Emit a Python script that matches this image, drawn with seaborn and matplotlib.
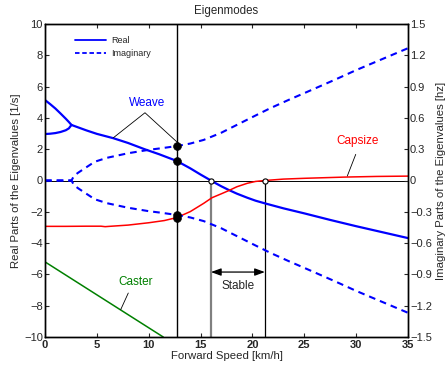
import matplotlib
matplotlib.use("Agg")
import matplotlib.pyplot as plt
import seaborn as sns
from matplotlib.lines import Line2D

# --- data ---
# weave mode, two real roots before they merge into an oscillation
split_speed = [0.0, 0.5, 1.0, 1.5, 2.0, 2.3, 2.55]
weave_real_upper = [5.14, 4.88, 4.6, 4.28, 3.95, 3.74, 3.55]
weave_real_lower = [2.97, 2.99, 3.03, 3.1, 3.21, 3.33, 3.55]

weave_speed = [2.55, 4.0, 5.0, 6.6, 8.0, 9.6, 11.0, 12.7, 14.0, 15.0, 16.0, 16.5,
               17.0, 17.7, 18.5, 19.5, 20.3, 21.2, 23.0, 25.0, 27.5, 30.0, 32.5, 35.0]
weave_real = [3.55, 3.2, 2.98, 2.7, 2.4, 2.0, 1.68, 1.25, 0.78, 0.38, 0.0, -0.19,
              -0.37, -0.6, -0.84, -1.1, -1.29, -1.46, -1.78, -2.1, -2.52, -2.92, -3.3, -3.68]

# imaginary part of the weave pair [hz], plotted as +/- on the right axis
imag_speed = [0.0, 2.55, 2.8, 3.2, 3.7, 4.8, 6.0, 8.0, 10.0, 11.2, 12.7, 14.0,
              15.3, 17.0, 18.5, 20.0, 21.7, 23.5, 25.2, 28.0, 30.0, 32.5, 35.0]
weave_imag_hz = [0.0, 0.0, 0.045, 0.075, 0.108, 0.18, 0.218, 0.261, 0.294, 0.309, 0.33, 0.354,
                 0.389, 0.458, 0.533, 0.608, 0.692, 0.773, 0.846, 0.968, 1.058, 1.163, 1.268]

capsize_speed = [0.0, 2.0, 4.0, 5.4, 5.8, 6.2, 8.0, 10.0, 11.5, 12.7, 14.0, 15.3,
                 16.1, 17.0, 17.7, 18.5, 19.5, 20.3, 21.2, 23.0, 25.0, 29.0, 32.0, 35.0]
capsize_real = [-2.93, -2.93, -2.92, -2.92, -2.95, -2.93, -2.85, -2.7, -2.56, -2.37, -1.99, -1.46,
                -1.1, -0.85, -0.65, -0.4, -0.18, -0.06, 0.0, 0.09, 0.14, 0.22, 0.26, 0.28]

caster_speed = [0.0, 11.4]
caster_real = [-5.2, -10.0]

marker_speed = 12.7
marker_real = [1.25, -2.37]
marker_imag_hz = [0.33, -0.33]
weave_critical = 16.0
capsize_critical = 21.2

BLUE, RED, GREEN = "#0000ff", "#ff0000", "#008000"

sns.set_style("ticks")
plt.rcParams["font.family"] = ["Liberation Sans", "DejaVu Sans"]
plt.rcParams["xtick.direction"] = "in"
plt.rcParams["ytick.direction"] = "in"

fig = plt.figure(figsize=(4.48, 3.66), dpi=100)
ax = fig.add_axes([45 / 448, 29 / 366, 363 / 448, 313 / 366])
ax2 = ax.twinx()

# reference lines
ax.axhline(0, color="k", lw=0.7, zorder=1)
ax.axvline(marker_speed, color="k", lw=1.0, zorder=1)
ax.vlines(weave_critical, -10, 0, color="#808080", lw=1.6, zorder=1)
ax.vlines(capsize_critical, -10, 0, color="k", lw=0.9, zorder=1)

# real parts
for xs, ys in [(split_speed, weave_real_upper), (split_speed, weave_real_lower),
               (weave_speed, weave_real)]:
    sns.lineplot(x=xs, y=ys, ax=ax, color=BLUE, lw=1.6, estimator=None, sort=False)
sns.lineplot(x=capsize_speed, y=capsize_real, ax=ax, color=RED, lw=1.1, estimator=None)
sns.lineplot(x=caster_speed, y=caster_real, ax=ax, color=GREEN, lw=1.1, estimator=None)

# imaginary parts (right axis)
dash = (0, (3.2, 2.4))
sns.lineplot(x=imag_speed, y=weave_imag_hz, ax=ax2, color=BLUE, lw=1.5,
             linestyle=dash, estimator=None)
sns.lineplot(x=imag_speed, y=[-v for v in weave_imag_hz], ax=ax2, color=BLUE, lw=1.5,
             linestyle=dash, estimator=None)

# markers
sns.scatterplot(x=[marker_speed] * 2, y=marker_real, ax=ax, color="k", s=32,
                edgecolor="k", zorder=6)
sns.scatterplot(x=[marker_speed] * 2, y=marker_imag_hz, ax=ax2, color="k", s=32,
                edgecolor="k", zorder=6)
sns.scatterplot(x=[weave_critical, capsize_critical], y=[0, 0], ax=ax, color="white",
                s=14, edgecolor="k", linewidth=0.8, zorder=6)

# mode labels
ax.plot([6.59, 9.64, 12.86], [2.73, 4.33, 2.38], color="k", lw=0.6)
ax.text(9.8, 4.97, "Weave", color=BLUE, fontsize=8.5, ha="center", va="center")
ax.plot([29.96, 29.15], [1.67, 0.29], color="k", lw=0.6)
ax.text(30.1, 2.55, "Capsize", color=RED, fontsize=8.5, ha="center", va="center")
ax.plot([8.03, 7.3], [-7.19, -8.25], color="k", lw=0.6)
ax.text(8.75, -6.49, "Caster", color=GREEN, fontsize=8.5, ha="center", va="center")

ax.annotate("", xy=(weave_critical, -5.85), xytext=(capsize_critical, -5.85),
            arrowprops=dict(arrowstyle="<|-|>,head_length=0.6,head_width=0.22",
                            color="k", lw=0.9, shrinkA=0, shrinkB=0))
ax.text(18.6, -6.75, "Stable", fontsize=8.5, ha="center", va="center")

# axes
ax.set_xlim(0, 35)
ax.set_ylim(-10, 10)
ax2.set_ylim(-1.5, 1.5)
ax.set_xticks(range(0, 36, 5))
ax.set_yticks(range(-10, 11, 2))
right_ticks = [-1.5, -1.2, -0.9, -0.6, -0.3, 0, 0.3, 0.6, 0.9, 1.2, 1.5]
ax2.set_yticks(right_ticks, labels=[f"{t:g}".replace("-", "\u2212") for t in right_ticks])
plt.setp(ax.get_xticklabels(), fontweight="bold")

ax.tick_params(axis="both", labelsize=8, length=3, width=0.8, pad=1.5, top=True)
ax.tick_params(axis="x", pad=2.5)
ax2.tick_params(axis="y", labelsize=8, length=3, width=0.8, pad=1.5)
for a in (ax, ax2):
    for s in a.spines.values():
        s.set_linewidth(1.0)
        s.set_color("k")

ax.set_xlabel("Forward Speed [km/h]", fontsize=8.2, labelpad=0.5)
ax.set_ylabel("Real Parts of the Eigenvalues [1/s]", fontsize=8.2, labelpad=2)
ax2.set_ylabel("Imaginary Parts of the Eigenvalues [hz]", fontsize=8.2, labelpad=3)
ax.set_title("Eigenmodes", fontsize=8.3, pad=7)

handles = [Line2D([], [], color=BLUE, lw=1.3),
           Line2D([], [], color=BLUE, lw=1.3, linestyle=(0, (2.5, 1.5)))]
ax.legend(handles, ["Real", "Imaginary"], loc="upper left", bbox_to_anchor=(0.083, 0.962),
          frameon=False, fontsize=6.5, handlelength=3.4, handletextpad=0.6,
          borderpad=0, borderaxespad=0, labelspacing=0.45)

fig.savefig("out.png", dpi=100)
